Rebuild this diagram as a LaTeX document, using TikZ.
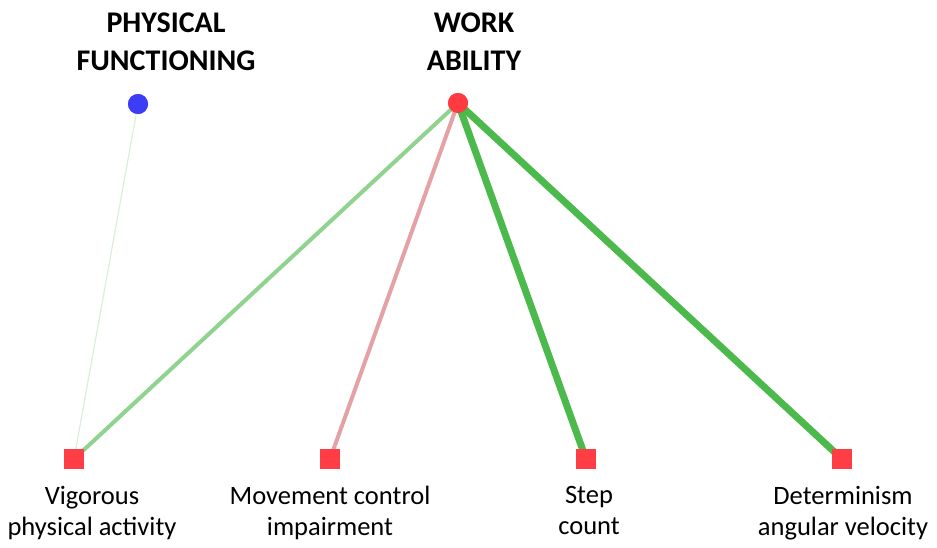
\documentclass[tikz,border=0pt]{standalone}
\usepackage{fontspec}
\setmainfont{Carlito}
\begin{document}
\begin{tikzpicture}[x=1pt,y=-1pt,
  title/.style={font=\fontsize{30}{38}\selectfont\bfseries, align=center, inner sep=0pt},
  label/.style={font=\fontsize{26.5}{31}\selectfont, align=center, inner sep=0pt, anchor=north},
  dot/.style={circle, inner sep=0pt, minimum size=20pt},
  sq/.style={rectangle, fill=sqred, inner sep=0pt, minimum size=20pt},
  link/.style={line cap=round}
]
\definecolor{sqred}{HTML}{FF3D45}
\definecolor{dotred}{HTML}{FF3A40}
\definecolor{dotblue}{HTML}{3D3DF5}
\definecolor{gpale}{HTML}{D9EFD9}
\definecolor{glight}{HTML}{8FD38F}
\definecolor{gstrong}{HTML}{4CB94C}
\definecolor{pinkish}{HTML}{E4A2A6}

\useasboundingbox (0,0) rectangle (937,547);

% outcome nodes
\node[dot, fill=dotblue] (pf) at (138,104) {};
\node[dot, fill=dotred] (wa) at (458,103) {};
\node[title] (pft) at (166,42) {PHYSICAL\\FUNCTIONING};
\node[title] (wat) at (474,42) {WORK\\ABILITY};

% predictor nodes
\node[sq] (vpa) at (74,459) {};
\node[sq] (mci) at (330,459) {};
\node[sq] (stc) at (586,459) {};
\node[sq] (dav) at (842,459) {};

\node[label] (vpat) at (92,486) {Vigorous\\physical activity};
\node[label] (mcit) at (330,486) {Movement control\\impairment};
\node[label] (stct) at (589,486) {Step\\count};
\node[label] (davt) at (843,486) {Determinism\\angular velocity};

% associations
\draw[link, gpale, line width=1.2pt] (pf.center) -- (vpa.center);
\draw[link, glight, line width=4pt] (wa.center) -- (vpa.center);
\draw[link, pinkish, line width=4pt] (wa.center) -- (mci.center);
\draw[link, gstrong, line width=7pt] (wa.center) -- (stc.center);
\draw[link, gstrong, line width=7pt] (wa.center) -- (dav.center);

% markers drawn on top of the lines
\node[dot, fill=dotred] at (wa) {};
\node[dot, fill=dotblue] at (pf) {};
\node[sq] at (vpa) {};
\node[sq] at (mci) {};
\node[sq] at (stc) {};
\node[sq] at (dav) {};
\end{tikzpicture}
\end{document}
